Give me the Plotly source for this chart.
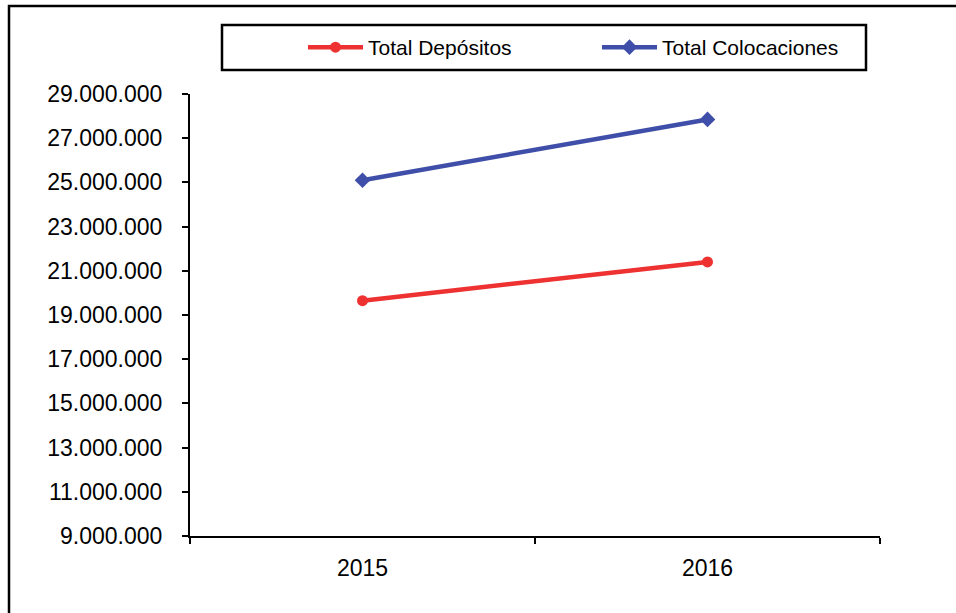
import plotly.graph_objects as go

# Series data
years = ["2015", "2016"]
total_depositos = [19650000, 21400000]
total_colocaciones = [25100000, 27850000]

# Axis ticks
y_ticks = [9000000, 11000000, 13000000, 15000000, 17000000, 19000000,
           21000000, 23000000, 25000000, 27000000, 29000000]

RED = "#EE3131"
BLUE = "#3F4EA8"

fig = go.Figure()
fig.add_trace(go.Scatter(
    x=years, y=total_depositos, name="Total Depósitos",
    mode="lines+markers",
    line=dict(color=RED, width=4.5),
    marker=dict(color=RED, size=11, symbol="circle"),
))
fig.add_trace(go.Scatter(
    x=years, y=total_colocaciones, name="Total Colocaciones",
    mode="lines+markers",
    line=dict(color=BLUE, width=4.5),
    marker=dict(color=BLUE, size=12, symbol="diamond"),
))

font = dict(family="Liberation Sans, Arial, sans-serif", size=23, color="black")

# Pixel -> paper helpers for the plot area (x: 190..880, y: 94..536)
def px(p):
    return (p - 190) / 690.0

def py(q):
    return (536 - q) / 442.0

fig.update_layout(
    width=956, height=613,
    margin=dict(l=190, r=76, t=94, b=77),
    paper_bgcolor="white", plot_bgcolor="white",
    font=font,
    separators=",.",
    showlegend=True,
    legend=dict(
        orientation="h",
        x=px(303), y=py(47.5), xanchor="left", yanchor="middle",
        font=dict(family="Liberation Sans, Arial, sans-serif", size=21, color="black"),
        bgcolor="rgba(0,0,0,0)",
        itemwidth=55,
        entrywidth=224,
        entrywidthmode="pixels",
    ),
    xaxis=dict(
        type="category", range=[-0.5, 1.5],
        tickson="boundaries",
        ticks="outside", ticklen=6, tickwidth=2, tickcolor="black",
        showline=True, linecolor="black", linewidth=2,
        showgrid=False, zeroline=False,
        tickfont=font,
        ticklabelstandoff=10,
    ),
    yaxis=dict(
        range=[9000000, 29000000],
        tickvals=y_ticks, tickformat=",d",
        ticks="outside", ticklen=6, tickwidth=2, tickcolor="black",
        showline=True, linecolor="black", linewidth=2,
        showgrid=False, zeroline=False,
        tickfont=font,
        ticklabelstandoff=15,
    ),
    shapes=[
        # outer chart frame
        dict(type="rect", xref="paper", yref="paper",
             x0=px(9), x1=px(1000), y0=py(650), y1=py(6),
             line=dict(color="black", width=2.5), fillcolor="rgba(0,0,0,0)",
             layer="below"),
        # legend frame
        dict(type="rect", xref="paper", yref="paper",
             x0=px(222), x1=px(866), y0=py(70), y1=py(25),
             line=dict(color="black", width=2.5), fillcolor="rgba(0,0,0,0)"),
    ],
)

fig.write_html("out.html")
